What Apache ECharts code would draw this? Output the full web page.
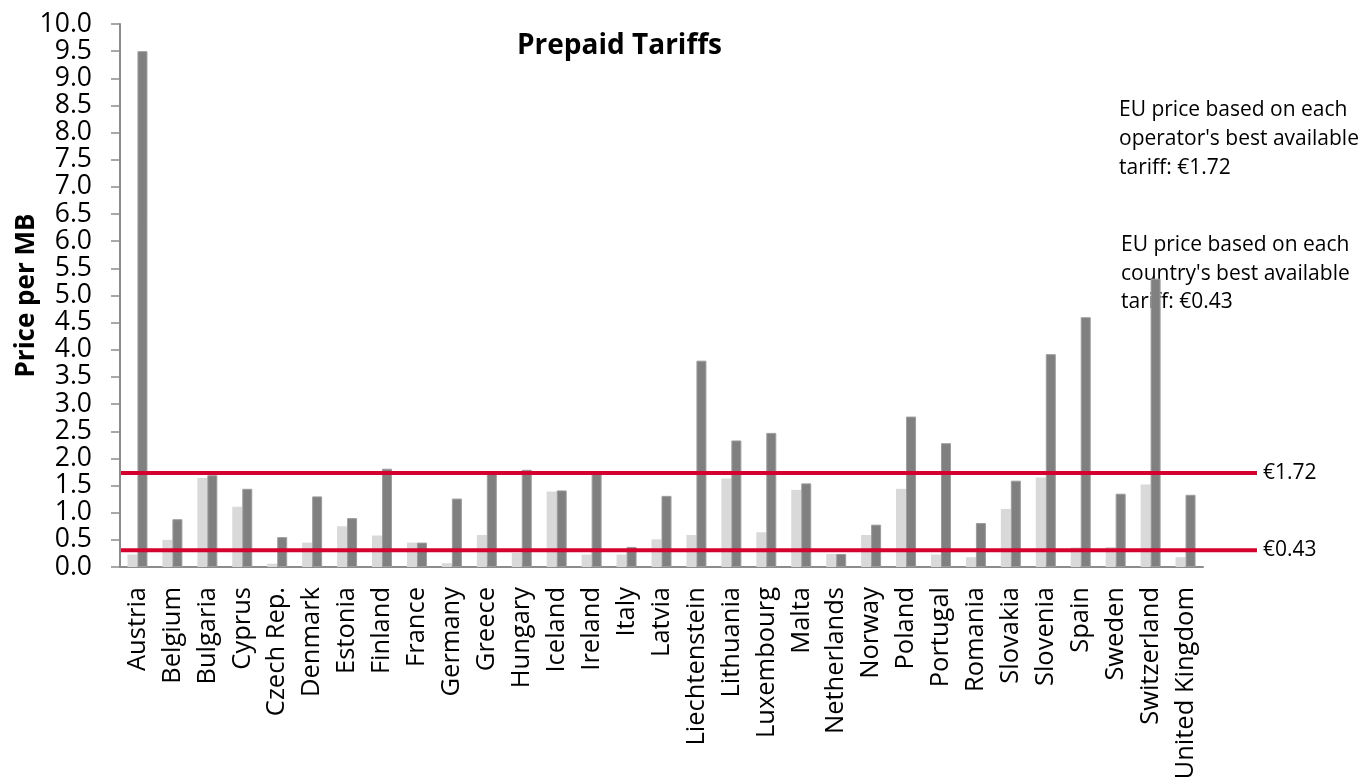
<!DOCTYPE html>
<html>
<head>
<meta charset="utf-8">
<title>Prepaid Tariffs</title>
<script src="https://cdn.jsdelivr.net/npm/echarts@6/dist/echarts.min.js"></script>
<style>
  html, body { margin: 0; padding: 0; background: #fff; }
  #main { width: 1363px; height: 777px; }
</style>
</head>
<body>
<div id="main"></div>
<script>
// countries on the x axis
const countries = ['Austria', 'Belgium', 'Bulgaria', 'Cyprus', 'Czech Rep.', 'Denmark', 'Estonia',
  'Finland', 'France', 'Germany', 'Greece', 'Hungary', 'Iceland', 'Ireland', 'Italy', 'Latvia',
  'Liechtenstein', 'Lithuania', 'Luxembourg', 'Malta', 'Netherlands', 'Norway', 'Poland',
  'Portugal', 'Romania', 'Slovakia', 'Slovenia', 'Spain', 'Sweden', 'Switzerland', 'United Kingdom'];

// light bars (cheapest tariff in the country)
const bestTariff = [0.23, 0.50, 1.64, 1.11, 0.06, 0.45, 0.75, 0.58, 0.45, 0.07, 0.59, 0.26, 1.39,
  0.23, 0.23, 0.51, 0.59, 1.63, 0.64, 1.42, 0.24, 0.59, 1.44, 0.23, 0.18, 1.07, 1.65, 0.36, 0.37,
  1.52, 0.18];

// dark bars
const otherTariff = [9.50, 0.88, 1.69, 1.44, 0.55, 1.30, 0.90, 1.81, 0.45, 1.26, 1.74, 1.79, 1.41,
  1.73, 0.37, 1.31, 3.80, 2.33, 2.47, 1.54, 0.24, 0.78, 2.77, 2.28, 0.81, 1.59, 3.92, 4.60, 1.35,
  5.31, 1.33];

// red reference lines: where they sit on the y scale, and their labels
const euLineValues = [1.73, 0.31];
const euLineLabels = ['€1.72', '€0.43'];

const yTicks = { min: 0, max: 10, step: 0.5 };

const FONT = 'Open Sans';
const RED = '#d4002d';

const chart = echarts.init(document.getElementById('main'), null, { renderer: 'canvas' });

const option = {
  backgroundColor: '#fff',
  animation: false,
  textStyle: { fontFamily: FONT },
  title: {
    text: 'Prepaid Tariffs',
    left: 512,
    top: 27,
    textStyle: { fontFamily: FONT, fontSize: 28, fontWeight: 'bold', color: '#000' }
  },
  grid: [
    { left: 120, right: 160, top: 24, bottom: 210, outerBoundsMode: 'none', containLabel: false },
    // same vertical extent, but the red lines run on past the last tick
    { left: 121, right: 106, top: 24, bottom: 210, outerBoundsMode: 'none', containLabel: false }
  ],
  xAxis: [
    {
      type: 'category',
      gridIndex: 0,
      data: countries,
      axisLine: { lineStyle: { color: '#8c8c8c', width: 2 } },
      axisTick: { length: 9, lineStyle: { color: '#8c8c8c', width: 1.5 } },
      axisLabel: {
        rotate: 90,
        interval: 0,
        margin: 20,
        fontSize: 25.5,
        color: '#000',
        fontFamily: FONT
      }
    },
    { type: 'value', gridIndex: 1, min: 0, max: 1, show: false }
  ],
  yAxis: [
    {
      type: 'value',
      gridIndex: 0,
      min: yTicks.min,
      max: yTicks.max,
      interval: yTicks.step,
      name: 'Price per MB',
      nameLocation: 'middle',
      nameGap: 80,
      nameMoveOverlap: false,
      nameTextStyle: { fontFamily: FONT, fontSize: 26, fontWeight: 'bold', color: '#000' },
      axisLine: { show: true, lineStyle: { color: '#8c8c8c', width: 2 } },
      axisTick: { show: true, length: 9, lineStyle: { color: '#8c8c8c', width: 1.5 } },
      splitLine: { show: false },
      axisLabel: {
        margin: 28,
        fontSize: 26.5,
        color: '#000',
        fontFamily: FONT,
        formatter: v => v.toFixed(1)
      }
    },
    { type: 'value', gridIndex: 1, min: yTicks.min, max: yTicks.max, show: false }
  ],
  graphic: [
    {
      type: 'text',
      left: 1119,
      top: 96,
      style: {
        text: "EU price based on each\noperator's best available\ntariff: €1.72",
        font: '21px "Open Sans"',
        lineHeight: 29,
        fill: '#000'
      }
    },
    {
      type: 'text',
      left: 1121,
      top: 231,
      style: {
        text: "EU price based on each\ncountry's best available\ntariff: €0.43",
        font: '21px "Open Sans"',
        lineHeight: 28.5,
        fill: '#000'
      }
    }
  ],
  series: [
    {
      name: 'Best',
      type: 'bar',
      xAxisIndex: 0,
      yAxisIndex: 0,
      barWidth: 10,
      barGap: '0%',
      itemStyle: { color: '#d9d9d9' },
      data: bestTariff
    },
    {
      name: 'Other',
      type: 'bar',
      xAxisIndex: 0,
      yAxisIndex: 0,
      barWidth: 10,
      barGap: '0%',
      itemStyle: { color: '#808080', borderColor: '#9c9c9c', borderWidth: 1 },
      data: otherTariff
    }
  ].concat(euLineValues.map((v, i) => ({
    type: 'line',
    xAxisIndex: 1,
    yAxisIndex: 1,
    z: 5,
    symbol: 'none',
    lineStyle: { color: RED, width: 4 },
    endLabel: {
      show: true,
      distance: 6,
      formatter: euLineLabels[i],
      fontFamily: FONT,
      fontSize: 21,
      color: '#000'
    },
    data: [[0, v], [1, v]]
  })))
};

chart.setOption(option);
</script>
</body>
</html>
